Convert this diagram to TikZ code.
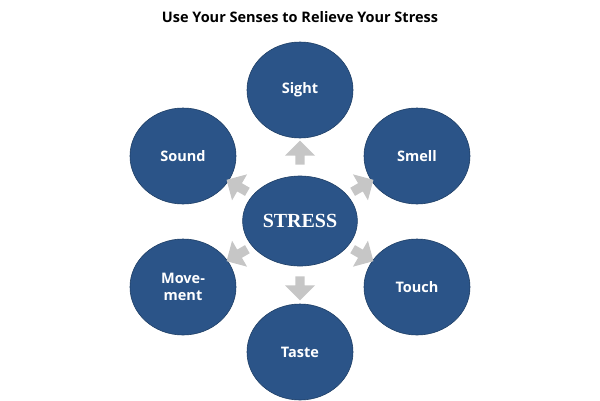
\documentclass[tikz,border=0pt]{standalone}
\usepackage{fontspec}
\setmainfont{Open Sans}
\newfontfamily\stressfont{Liberation Serif}
\usetikzlibrary{shapes.geometric,shapes.arrows}
\definecolor{sblue}{HTML}{2B5488}
\definecolor{sedge}{HTML}{1F3F66}
\begin{document}
\begin{tikzpicture}[x=1pt,y=-1pt,
  sense/.style={ellipse,fill=sblue,draw=sedge,line width=0.6pt,minimum width=106pt,minimum height=96pt,text=white,font=\bfseries\fontsize{14.5}{17}\selectfont,align=center},
  barrow/.style={single arrow,fill=gray!45,minimum width=30pt,single arrow head extend=7pt,minimum height=24pt,inner sep=3pt}]
\useasboundingbox (0,0) rectangle (600,400);
\node[font=\bfseries\fontsize{14.5}{17}\selectfont] (title) at (300,17) {Use Your Senses to Relieve Your Stress};
\node[sense,minimum width=102pt,minimum height=90pt,font=\stressfont\bfseries\fontsize{20}{22}\selectfont] (c) at (300,221) {STRESS};
\node[sense] (sight) at (300,90) {Sight};
\node[sense] (smell) at (417,156) {Smell};
\node[sense] (touch) at (417,287) {Touch};
\node[sense] (taste) at (300,352) {Taste};
\node[sense] (move) at (183,287) {Move-\\ment};
\node[sense] (sound) at (183,156) {Sound};
\node[barrow,rotate=90] (a1) at (300,155) {};
\node[barrow,rotate=30] (a2) at (361,187) {};
\node[barrow,rotate=-30] (a3) at (361,254) {};
\node[barrow,rotate=-90] (a4) at (300,286) {};
\node[barrow,rotate=-150] (a5) at (239,254) {};
\node[barrow,rotate=150] (a6) at (239,187) {};
\end{tikzpicture}
\end{document}
